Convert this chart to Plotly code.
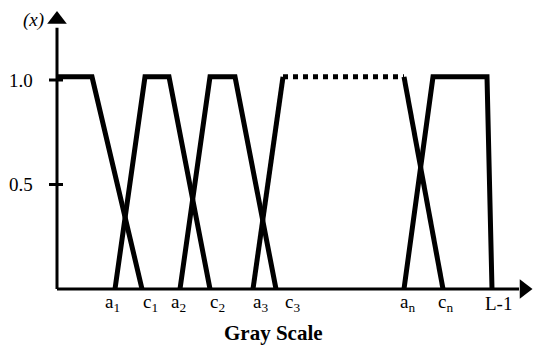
import plotly.graph_objects as go

# membership functions along the gray scale (units: gray level, y-axis at 0)
top = 1.015
mf1_x = [0, 35, 85]
mf1_y = [top, top, 0]
mf2_x = [58, 88, 112, 153]
mf2_y = [0, top, top, 0]
mf3_x = [123, 153, 178, 219]
mf3_y = [0, top, top, 0]
mf4_up_x = [196, 226]
mf4_up_y = [0, top]
mf4_dot_x = [226, 347]
mf4_dot_y = [top, top]
mf4_down_x = [347, 386]
mf4_down_y = [top, 0]
mfn_x = [347, 376, 430, 435]
mfn_y = [0, top, top, 0]

x_tick_pos = [55, 93, 121, 160, 203, 235, 350, 388, 441]
x_tick_text = ["a<sub>1</sub>", "c<sub>1</sub>", "a<sub>2</sub>", "c<sub>2</sub>",
               "a<sub>3</sub>", "c<sub>3</sub>", "a<sub>n</sub>", "c<sub>n</sub>", "L-1"]
y_tick_pos = [0.5, 1.0]
y_tick_text = ["0.5", "1.0"]

FONT = "Liberation Serif"
fig = go.Figure()

solid = [(mf1_x, mf1_y), (mf2_x, mf2_y), (mf3_x, mf3_y),
         (mf4_up_x, mf4_up_y), (mf4_down_x, mf4_down_y), (mfn_x, mfn_y)]
for xs, ys in solid:
    fig.add_trace(go.Scatter(x=xs, y=ys, mode="lines",
                             line=dict(color="black", width=5)))
fig.add_trace(go.Scatter(x=mf4_dot_x, y=mf4_dot_y, mode="lines",
                         line=dict(color="black", width=5, dash="5px,5px")))

# axes with arrow heads
fig.add_shape(type="line", x0=0, y0=0, x1=462, y1=0, line=dict(color="black", width=3))
fig.add_shape(type="line", x0=0, y0=0, x1=0, y1=1.25, line=dict(color="black", width=3))
fig.add_trace(go.Scatter(x=[467], y=[0], mode="markers", cliponaxis=False,
                         marker=dict(symbol="triangle-right", size=17, color="black")))
fig.add_trace(go.Scatter(x=[0], y=[1.29], mode="markers", cliponaxis=False,
                         marker=dict(symbol="triangle-up", size=17, color="black")))

for yv, txt in zip(y_tick_pos, y_tick_text):
    fig.add_shape(type="line", x0=-8, y0=yv, x1=6, y1=yv, line=dict(color="black", width=3))
    fig.add_annotation(x=-22, y=yv, text=txt, showarrow=False, xanchor="right",
                       font=dict(family=FONT, size=19, color="black"))

for xv, txt in zip(x_tick_pos, x_tick_text):
    fig.add_annotation(x=xv, y=-0.067, text=txt, showarrow=False,
                       font=dict(family=FONT, size=19, color="black"))

fig.add_annotation(x=216, y=-0.21, text="<b>Gray Scale</b>", showarrow=False,
                   font=dict(family=FONT, size=21, color="black"))
fig.add_annotation(x=-24, y=1.287, text="<i>(x)</i>", showarrow=False,
                   font=dict(family=FONT, size=19, color="black"))

# page has an 8px body margin, so the figure is 542x348 and shifted accordingly
fig.update_layout(
    width=542, height=348,
    margin=dict(l=0, r=0, t=0, b=0),
    plot_bgcolor="white", paper_bgcolor="white",
    showlegend=False,
    xaxis=dict(range=[-49, 493], visible=False, fixedrange=True),
    yaxis=dict(range=[-0.3206, 1.3445], visible=False, fixedrange=True),
)

fig.write_html("out.html")
